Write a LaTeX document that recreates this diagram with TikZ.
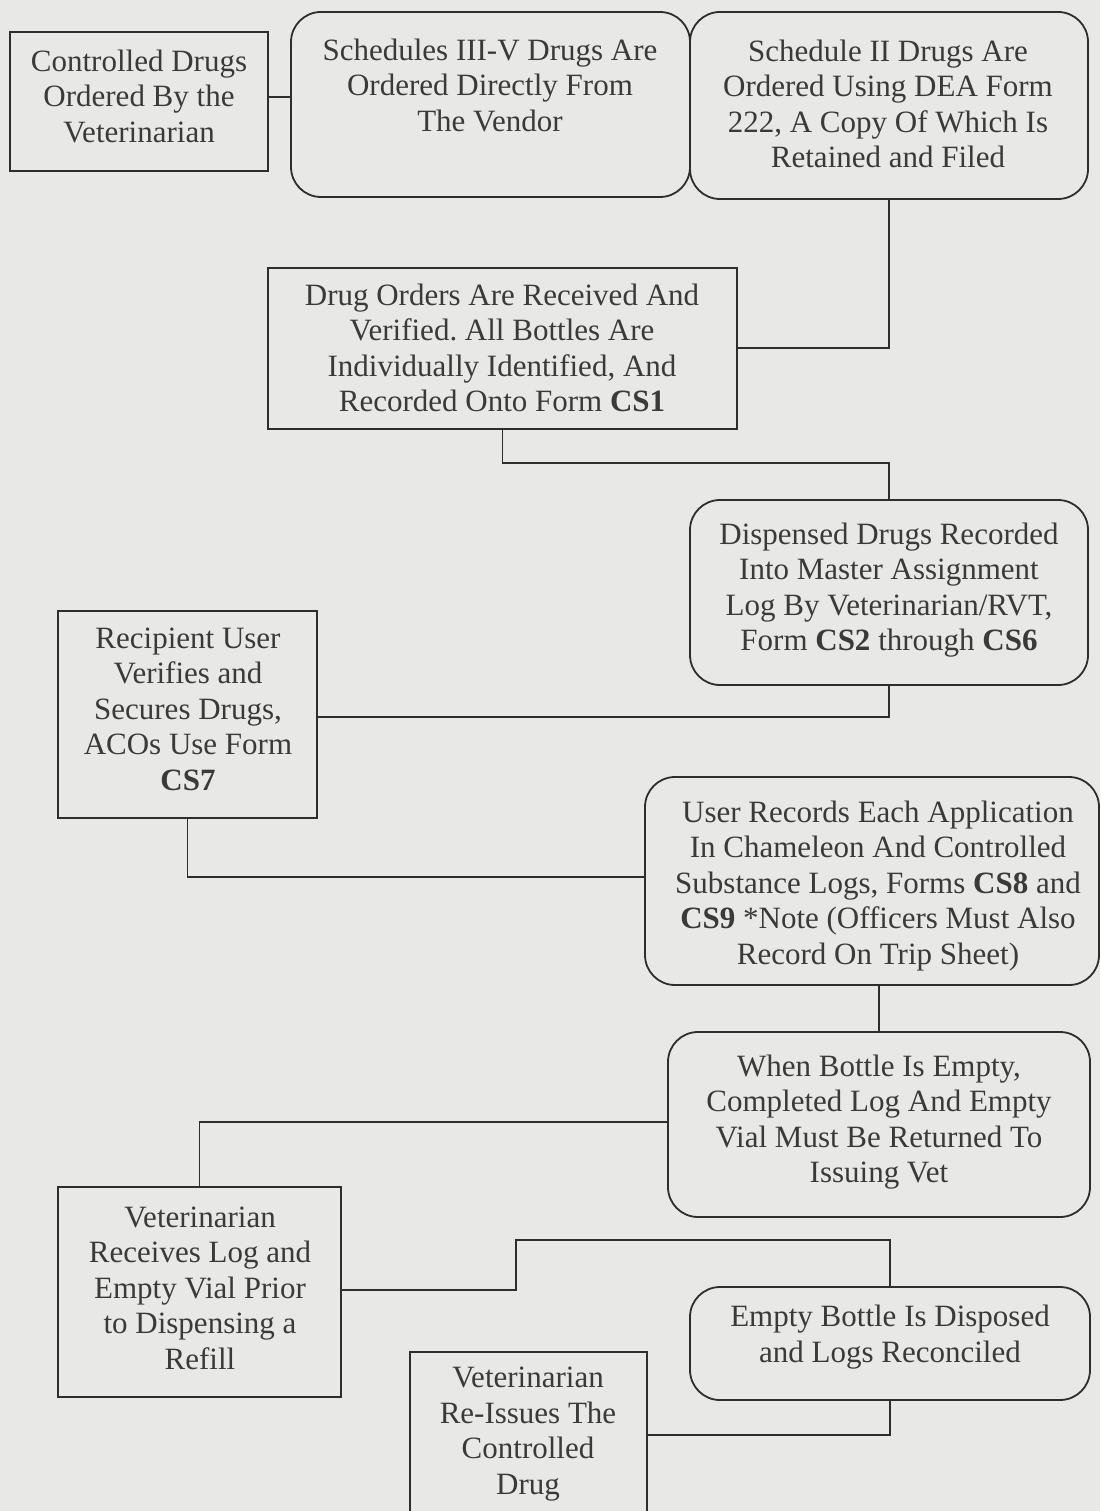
\documentclass[tikz,border=0pt]{standalone}
\usepackage{fontspec}
\setmainfont{Liberation Serif}
\frenchspacing
\definecolor{bgc}{HTML}{E8E8E6}
\definecolor{txc}{HTML}{3A3A3A}
\definecolor{lnc}{HTML}{2E2E2E}
\begin{document}
\begin{tikzpicture}[x=1pt,y=-1pt,
  sq/.style={draw=lnc, line width=1.8pt, inner sep=0pt},
  rnd/.style={sq, rounded corners=30pt},
  txt/.style={text=txc, align=center, inner sep=0pt, font=\fontsize{31}{35.5}\selectfont\frenchspacing},
  conn/.style={draw=lnc, line width=1.8pt}]
\fill[bgc] (0,0) rectangle (1100,1511);
\useasboundingbox (0,0) rectangle (1100,1511);
\clip (0,0) rectangle (1100,1511);
% boxes
\node[sq, minimum width=258, minimum height=139] (b1) at (139,101.5) {};
\node[rnd, minimum width=399, minimum height=185] (b2) at (490.5,104.5) {};
\node[rnd, minimum width=398, minimum height=187] (b3) at (889,105.5) {};
\node[sq, minimum width=469, minimum height=161] (b4) at (502.5,348.5) {};
\node[rnd, minimum width=398, minimum height=185] (b5) at (889,592.5) {};
\node[sq, minimum width=259, minimum height=207] (b6) at (187.5,714.5) {};
\node[rnd, minimum width=454, minimum height=208] (b7) at (872,881) {};
\node[rnd, minimum width=422, minimum height=185] (b8) at (879,1124.5) {};
\node[sq, minimum width=283, minimum height=210] (b9) at (199.5,1292) {};
\node[rnd, minimum width=400, minimum height=113] (b10) at (890,1343.5) {};
\node[sq, minimum width=237, minimum height=176] (b11) at (528.5,1440) {};
% texts
\node[txt] (t1) at (139,96) {Controlled Drugs\\Ordered By the\\Veterinarian};
\node[txt] (t2) at (490,85) {Schedules III-V Drugs Are\\Ordered Directly From\\The Vendor};
\node[txt] (t3) at (888,104) {Schedule II Drugs Are\\Ordered Using DEA Form\\222, A Copy Of Which Is\\Retained and Filed};
\node[txt] (t4) at (502,348) {Drug Orders Are Received And\\Verified. All Bottles Are\\Individually Identified, And\\Recorded Onto Form \textbf{CS1}};
\node[txt] (t5) at (889,590) {Dispensed Drugs Recorded\\Into Master Assignment\\Log By Veterinarian/RVT,\\Form \textbf{CS2} through \textbf{CS6}};
\node[txt] (t6) at (188,709) {Recipient User\\Verifies and\\Secures Drugs,\\ACOs Use Form\\\textbf{CS7}};
\node[txt] (t7) at (878,886) {User Records Each Application\\In Chameleon And Controlled\\Substance Logs, Forms \textbf{CS8} and\\\textbf{CS9} *Note (Officers Must Also\\Record On Trip Sheet)};
\node[txt] (t8) at (879,1122) {When Bottle Is Empty,\\Completed Log And Empty\\Vial Must Be Returned To\\Issuing Vet};
\node[txt] (t9) at (200,1288) {Veterinarian\\Receives Log and\\Empty Vial Prior\\to Dispensing a\\Refill};
\node[txt] (t10) at (890,1337) {Empty Bottle Is Disposed\\and Logs Reconciled};
\node[txt] (t11) at (528,1434) {Veterinarian\\Re-Issues The\\Controlled\\Drug};
% connectors
\draw[conn] (b1.east |- 0,97) -- (b2.west |- 0,97);
\draw[conn] (b3.south) -- (b3.south |- 0,348) -- (b4.east |- 0,348);
\draw[conn] (b4.south) -- (b4.south |- 0,463) -| (b5.north);
\draw[conn] (b5.south) -- (b5.south |- 0,717) -- (b6.east |- 0,717);
\draw[conn] (b6.south) -- (b6.south |- 0,877) -- (b7.west |- 0,877);
\draw[conn] (b8.north |- b7.south) -- (b8.north);
\draw[conn] (b8.west |- 0,1122) -| (b9.north);
\draw[conn] (b9.east |- 0,1290) -- (516,1290) -- (516,1240) -| (b10.north);
\draw[conn] (b10.south) |- (b11.east |- 0,1435);
\end{tikzpicture}
\end{document}
